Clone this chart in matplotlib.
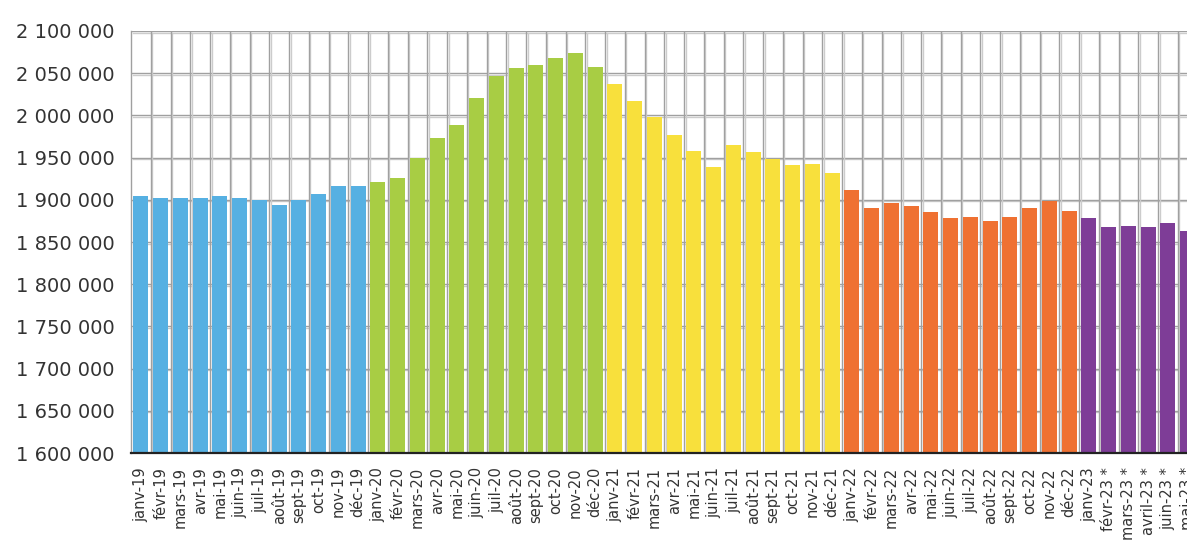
#!/usr/bin/env python3

import matplotlib
matplotlib.use("Agg")
import matplotlib.pyplot as plt
import matplotlib.patheffects as pe
from matplotlib.ticker import FuncFormatter, MultipleLocator

# Monthly values, one list per year
labels_2019 = ["janv-19", "févr-19", "mars-19", "avr-19", "mai-19", "juin-19",
               "juil-19", "août-19", "sept-19", "oct-19", "nov-19", "déc-19"]
values_2019 = [1904000, 1902500, 1902500, 1902500, 1904800, 1902500,
               1900000, 1894200, 1899300, 1907200, 1916700, 1916700]

labels_2020 = ["janv-20", "févr-20", "mars-20", "avr-20", "mai-20", "juin-20",
               "juil-20", "août-20", "sept-20", "oct-20", "nov-20", "déc-20"]
values_2020 = [1921300, 1926000, 1949700, 1973200, 1988500, 2020800,
               2047000, 2056300, 2059800, 2068100, 2074000, 2057500]

labels_2021 = ["janv-21", "févr-21", "mars-21", "avr-21", "mai-21", "juin-21",
               "juil-21", "août-21", "sept-21", "oct-21", "nov-21", "déc-21"]
values_2021 = [2036700, 2016600, 1997600, 1976300, 1957300, 1938400,
               1964400, 1956100, 1947800, 1940700, 1941900, 1931200]

labels_2022 = ["janv-22", "févr-22", "mars-22", "avr-22", "mai-22", "juin-22",
               "juil-22", "août-22", "sept-22", "oct-22", "nov-22", "déc-22"]
values_2022 = [1911800, 1890500, 1896400, 1892900, 1885800, 1878700,
               1879900, 1875100, 1879900, 1890500, 1898800, 1887000]

labels_2023 = ["janv-23", "févr-23 *", "mars-23 *", "avril-23 *", "juin-23 *", "mai-23 *"]
values_2023 = [1878700, 1868000, 1869200, 1868000, 1872700, 1863300]

year_colors = ["#56B0E2", "#A8CD44", "#F8E03C", "#EF7132", "#7E3D97"]

groups = [(labels_2019, values_2019), (labels_2020, values_2020),
          (labels_2021, values_2021), (labels_2022, values_2022),
          (labels_2023, values_2023)]

labels = []
values = []
colors = []
for (lab, val), col in zip(groups, year_colors):
    labels += lab
    values += val
    colors += [col] * len(val)

text_color = "#333333"
y_min, y_max, y_step = 1600000, 2100000, 50000

fig = plt.figure(figsize=(11.87, 5.40), dpi=100)
ax = fig.add_axes([0.1104, 0.1611, 0.8985, 0.7815])

x = list(range(len(values)))
ax.bar(x, values, width=0.76, color=colors, zorder=3)

ax.set_xlim(-0.5, len(values) - 0.5)
ax.set_ylim(y_min, y_max)

ax.set_xticks(x)
ax.set_xticklabels(labels, rotation=90, fontsize=10.5, color=text_color)
ax.tick_params(axis="x", length=0, pad=10)

ax.yaxis.set_major_locator(MultipleLocator(y_step))
ax.yaxis.set_major_formatter(FuncFormatter(lambda v, p: f"{v:,.0f}".replace(",", " ")))
ax.tick_params(axis="y", length=0, pad=12, labelsize=14, labelcolor=text_color)

# Gridlines: dark grey line with a light grey double beside it
shadow = [pe.SimpleLineShadow(offset=(1.2, -1.2), shadow_color="#cccccc", alpha=1.0),
          pe.Normal()]
for yv in range(y_min + y_step, y_max + 1, y_step):
    ax.axhline(yv, color="#a0a0a0", linewidth=1.0, zorder=1, path_effects=shadow)
for i in range(len(values)):
    ax.axvline(i + 0.5, color="#a0a0a0", linewidth=1.0, zorder=1, path_effects=shadow)

for side in ["top", "right"]:
    ax.spines[side].set_visible(False)
ax.spines["left"].set_color("#a0a0a0")
ax.spines["left"].set_linewidth(1.0)
ax.spines["bottom"].set_color("#222222")
ax.spines["bottom"].set_linewidth(1.6)
ax.spines["bottom"].set_zorder(4)

plt.savefig("out.png", dpi=100)
